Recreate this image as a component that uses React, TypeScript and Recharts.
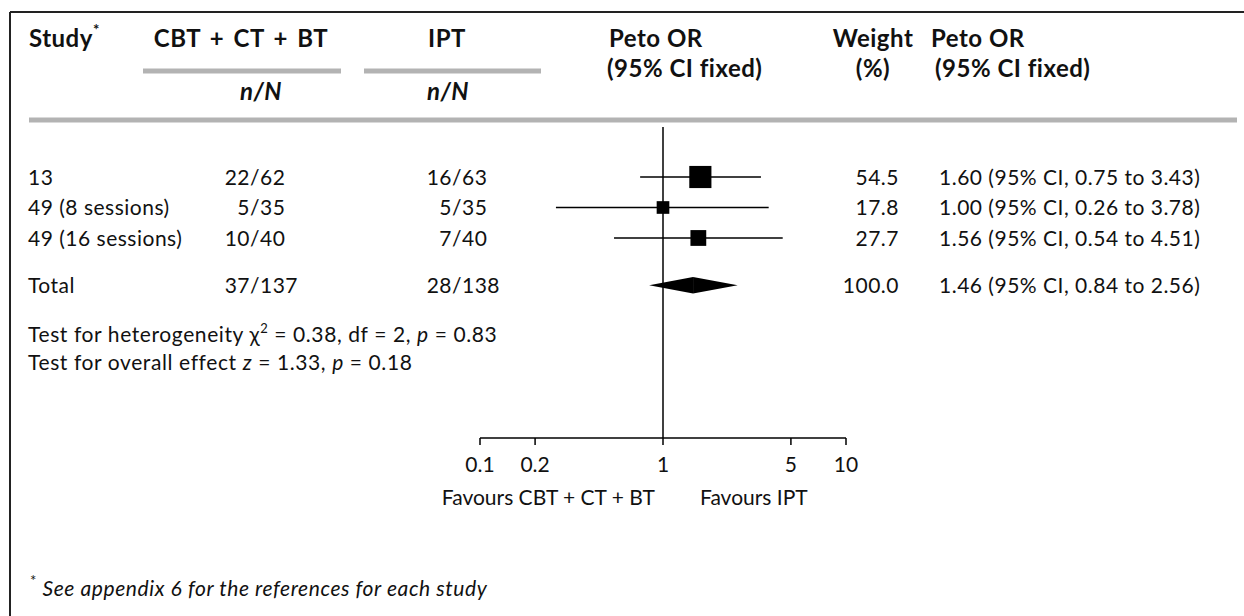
import React from "react";
import {
  ReferenceArea,
  ReferenceLine,
  Scatter,
  ScatterChart,
  XAxis,
  YAxis,
} from "recharts";

// Individual trials
const studyLabels = ["13", "49 (8 sessions)", "49 (16 sessions)"];
const cbtCounts = ["22/62", "5/35", "10/40"];
const iptCounts = ["16/63", "5/35", "7/40"];
const petoOr = [1.6, 1.0, 1.56];
const ciLower = [0.75, 0.26, 0.54];
const ciUpper = [3.43, 3.78, 4.51];
const weightPct = [54.5, 17.8, 27.7];

// Pooled estimate
const totalLabel = "Total";
const totalCbt = "37/137";
const totalIpt = "28/138";
const totalOr = 1.46;
const totalLower = 0.84;
const totalUpper = 2.56;
const totalWeight = 100.0;

const orTicks = [0.1, 0.2, 1, 5, 10];

const W = 1244;
const H = 616;
const FONT = "Lato, 'Noto Sans', sans-serif";
const FS = 21;
const SPACING = 0.5;
const HEAD_FS = 24;
const INK = "#111";
const RULE = "#b3b3b3";

// text columns (px)
const COL = { study: 28, cbt: 250, ipt: 452, weight: 899, ci: 939 };

const TOTAL_SLOT = 3.55;

type Row = {
  slot: number;
  label: string;
  cbt: string;
  ipt: string;
  or: number;
  lo: number;
  hi: number;
  weight: number;
};

const studyRows: Row[] = studyLabels.map((label, i) => ({
  slot: i,
  label,
  cbt: cbtCounts[i],
  ipt: iptCounts[i],
  or: petoOr[i],
  lo: ciLower[i],
  hi: ciUpper[i],
  weight: weightPct[i],
}));

const totalRow: Row = {
  slot: TOTAL_SLOT,
  label: totalLabel,
  cbt: totalCbt,
  ipt: totalIpt,
  or: totalOr,
  lo: totalLower,
  hi: totalUpper,
  weight: totalWeight,
};

const tableRows = [...studyRows, totalRow];

const ciText = (r: Row) =>
  `${r.or.toFixed(2)} (95% CI, ${r.lo.toFixed(2)} to ${r.hi.toFixed(2)})`;

// n/N cell lined up on the slash
function Count({ x, y, value }: { x: number; y: number; value: string }) {
  const [n, d] = value.split("/");
  return (
    <>
      <text x={x} y={y} dy="0.36em" textAnchor="end">
        {n}
      </text>
      <text x={x} y={y} dy="0.36em">
        /{d}
      </text>
    </>
  );
}

// one table line, placed on the row's y position
function RowText(props: any) {
  const { cy, payload } = props;
  const r = payload as Row;
  const y = cy;
  return (
    <g fontSize={FS} fill={INK} fontFamily={FONT} letterSpacing={SPACING}>
      <text x={COL.study} y={y} dy="0.36em">
        {r.label}
      </text>
      <Count x={COL.cbt} y={y} value={r.cbt} />
      <Count x={COL.ipt} y={y} value={r.ipt} />
      <text x={COL.weight} y={y} dy="0.36em" textAnchor="end">
        {r.weight.toFixed(1)}
      </text>
      <text x={COL.ci} y={y} dy="0.36em">
        {ciText(r)}
      </text>
    </g>
  );
}

// box area proportional to study weight
function WeightSquare(props: any) {
  const { cx, cy, payload } = props;
  const side = 3 * Math.sqrt(payload.weight);
  return (
    <rect x={cx - side / 2} y={cy - side / 2} width={side} height={side} fill="#000" />
  );
}

function DiamondLeft(props: any) {
  const { x, y, width, height } = props;
  const pts = `${x},${y + height / 2} ${x + width},${y} ${x + width},${y + height}`;
  return <polygon points={pts} fill="#000" />;
}

function DiamondRight(props: any) {
  const { x, y, width, height } = props;
  const pts = `${x},${y} ${x + width},${y + height / 2} ${x},${y + height}`;
  return <polygon points={pts} fill="#000" />;
}

function FavoursLabel(props: any) {
  const { x, y, height } = props.viewBox;
  const base = y + height + 67;
  return (
    <g fontSize={FS} fill={INK} fontFamily={FONT}>
      <text x={x - 8} y={base} textAnchor="end">
        Favours CBT + CT + BT
      </text>
      <text x={x + 37} y={base}>
        Favours IPT
      </text>
    </g>
  );
}

function Header() {
  return (
    <svg
      width={W}
      height={H}
      style={{ position: "absolute", left: 0, top: 0, pointerEvents: "none" }}
      fontFamily={FONT}
    >
      {/* frame */}
      <line x1={10} y1={12} x2={W} y2={12} stroke="#222" strokeWidth={2} />
      <line x1={10} y1={12} x2={10} y2={H} stroke="#222" strokeWidth={2} />

      <g fontSize={HEAD_FS} fontWeight={700} fill={INK} letterSpacing={0.5}>
        <text x={29} y={47}>
          Study
          <tspan fontSize={15} dy={-12}>
            *
          </tspan>
        </text>
        <text x={241} y={47} textAnchor="middle" wordSpacing={3}>
          CBT + CT + BT
        </text>
        <text x={447} y={47} textAnchor="middle">
          IPT
        </text>
        <text x={609} y={47}>
          Peto OR
        </text>
        <text x={607} y={77}>
          (95% CI fixed)
        </text>
        <text x={873} y={47} textAnchor="middle">
          Weight
        </text>
        <text x={873} y={77} textAnchor="middle">
          (%)
        </text>
        <text x={931} y={47}>
          Peto OR
        </text>
        <text x={935} y={77}>
          (95% CI fixed)
        </text>
        <text x={261} y={100} textAnchor="middle" fontStyle="italic">
          n/N
        </text>
        <text x={448} y={100} textAnchor="middle" fontStyle="italic">
          n/N
        </text>
      </g>

      <line x1={143} y1={71} x2={341} y2={71} stroke={RULE} strokeWidth={5} />
      <line x1={364} y1={71} x2={541} y2={71} stroke={RULE} strokeWidth={5} />
      <line x1={29} y1={120} x2={1237} y2={120} stroke={RULE} strokeWidth={5} />

      <g fontSize={FS} fill={INK} letterSpacing={0.6}>
        <text x={28} y={342}>
          Test for heterogeneity χ
          <tspan fontSize={13} dy={-9}>
            2
          </tspan>
          <tspan dy={9}> = 0.38, df = 2, </tspan>
          <tspan fontStyle="italic">p</tspan> = 0.83
        </text>
        <text x={28} y={370}>
          Test for overall effect <tspan fontStyle="italic">z</tspan> = 1.33,{" "}
          <tspan fontStyle="italic">p</tspan> = 0.18
        </text>
        <text x={30} y={596}>
          <tspan fontSize={15} dy={-10}>
            *
          </tspan>
          <tspan dy={10} fontStyle="italic">
            {" "}See appendix 6 for the references for each study
          </tspan>
        </text>
      </g>
    </svg>
  );
}

export default function App() {
  const plotTop = 127;
  const axisY = 438;
  const xAxisHeight = 40;

  return (
    <div
      style={{
        position: "absolute",
        left: 0,
        top: 0,
        width: W,
        height: H,
        background: "#fff",
        fontFamily: FONT,
      }}
    >
      <ScatterChart
        width={W}
        height={H}
        margin={{ top: plotTop, right: W - 846, bottom: H - axisY - xAxisHeight, left: 480 }}
      >
        <XAxis
          dataKey="or"
          type="number"
          scale="log"
          domain={[0.1, 10]}
          ticks={orTicks}
          height={xAxisHeight}
          interval={0}
          axisLine={{ stroke: "#000", strokeWidth: 1.5 }}
          tickLine={{ stroke: "#000", strokeWidth: 1.5 }}
          tickSize={7}
          tickMargin={12}
          tick={{ fill: INK, fontSize: FS, fontFamily: FONT }}
        />
        <YAxis
          dataKey="slot"
          type="number"
          domain={[-1.64, 8.56]}
          reversed
          hide
        />
        <ReferenceLine
          x={1}
          stroke="#000"
          strokeWidth={1.5}
          label={<FavoursLabel />}
        />
        {studyRows.map((r) => (
          <ReferenceLine
            key={r.label}
            segment={[
              { x: r.lo, y: r.slot },
              { x: r.hi, y: r.slot },
            ]}
            stroke="#000"
            strokeWidth={1.5}
          />
        ))}
        <Scatter
          data={tableRows}
          shape={<RowText />}
          isAnimationActive={false}
        />
        <Scatter
          data={studyRows}
          shape={<WeightSquare />}
          isAnimationActive={false}
        />
        <ReferenceArea
          x1={totalRow.lo}
          x2={totalRow.or}
          y1={totalRow.slot - 0.27}
          y2={totalRow.slot + 0.27}
          shape={<DiamondLeft />}
        />
        <ReferenceArea
          x1={totalRow.or}
          x2={totalRow.hi}
          y1={totalRow.slot - 0.27}
          y2={totalRow.slot + 0.27}
          shape={<DiamondRight />}
        />
      </ScatterChart>
      <Header />
    </div>
  );
}
